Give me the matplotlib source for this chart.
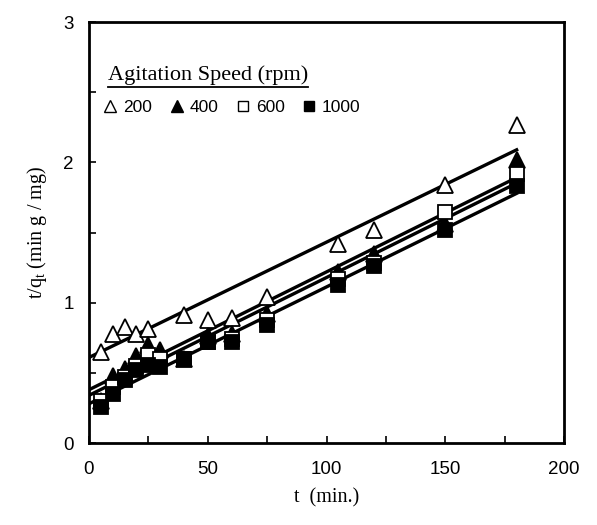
import matplotlib.pyplot as plt
import numpy as np
from matplotlib.lines import Line2D
from matplotlib.ticker import MultipleLocator

plt.rcParams["mathtext.fontset"] = "custom"
plt.rcParams["mathtext.rm"] = "Liberation Serif"

# contact time (min)
t_200 = [5, 10, 15, 20, 25, 40, 50, 60, 75, 105, 120, 150, 180]
t_all = [5, 10, 15, 20, 25, 30, 40, 50, 60, 75, 105, 120, 150, 180]

# t/qt (min g / mg) for each agitation speed
tq_200 = [0.65, 0.78, 0.83, 0.78, 0.81, 0.91, 0.88, 0.89, 1.04, 1.42, 1.52, 1.84, 2.27]
tq_400 = [0.30, 0.48, 0.53, 0.62, 0.70, 0.66, 0.60, 0.76, 0.78, 0.92, 1.22, 1.35, 1.56, 2.02]
tq_600 = [0.30, 0.40, 0.47, 0.55, 0.63, 0.60, 0.60, 0.72, 0.74, 0.88, 1.17, 1.28, 1.65, 1.92]
tq_1000 = [0.26, 0.35, 0.45, 0.52, 0.56, 0.54, 0.60, 0.72, 0.72, 0.84, 1.13, 1.26, 1.52, 1.83]

# pseudo-second-order fits: intercept, slope
fit_200 = (0.61, 0.00822)
fit_400 = (0.38, 0.00840)
fit_600 = (0.34, 0.00840)
fit_1000 = (0.28, 0.00833)

speeds = ["200", "400", "600", "1000"]

fig = plt.figure(figsize=(5.97, 5.25), dpi=100)
ax = fig.add_axes([0.149, 0.156, 0.796, 0.802])

series = [
    (t_200, tq_200, fit_200, "^", "white", 12),
    (t_all, tq_400, fit_400, "^", "black", 12),
    (t_all, tq_600, fit_600, "s", "white", 10),
    (t_all, tq_1000, fit_1000, "s", "black", 10),
]

tline = np.array([0, 180])
for tt, yy, (b, m), mk, fc, ms in series:
    ax.plot(tline, b + m * tline, color="black", lw=2.4, zorder=2)
for tt, yy, (b, m), mk, fc, ms in series:
    ax.plot(tt, yy, linestyle="none", marker=mk, ms=ms, mfc=fc, mec="black",
            mew=1.3, zorder=3, clip_on=False)

ax.set_xlim(0, 200)
ax.set_ylim(0, 3)
ax.xaxis.set_major_locator(MultipleLocator(50))
ax.xaxis.set_minor_locator(MultipleLocator(25))
ax.yaxis.set_major_locator(MultipleLocator(1))
ax.yaxis.set_minor_locator(MultipleLocator(0.5))
ax.tick_params(which="both", direction="in", length=5, width=1.2,
               top=False, right=False)
ax.tick_params(axis="x", which="major", pad=13)
ax.tick_params(axis="y", which="major", pad=11)
for lab in ax.get_xticklabels() + ax.get_yticklabels():
    lab.set_fontname("Liberation Sans")
    lab.set_fontsize(13.5)
for s in ax.spines.values():
    s.set_linewidth(2)

ax.set_xlabel("t  (min.)", fontname="Liberation Serif", fontsize=14.5, labelpad=7)
ax.set_ylabel(r"t/q$_{\mathrm{t}}$ (min g / mg)", fontname="Liberation Serif",
              fontsize=14.5, labelpad=10)

# legend title, underlined
title = ax.text(0.04, 0.862, "Agitation Speed (rpm)", transform=ax.transAxes,
                fontname="Liberation Serif", fontsize=16, va="baseline")
fig.canvas.draw()
bb = title.get_window_extent().transformed(ax.transAxes.inverted())
ax.plot([bb.x0, bb.x1], [bb.y0 - 0.004, bb.y0 - 0.004], transform=ax.transAxes,
        color="black", lw=1.3, clip_on=False)

handles = [
    Line2D([], [], linestyle="none", marker="^", ms=8, mfc="white", mec="black", mew=1),
    Line2D([], [], linestyle="none", marker="^", ms=8, mfc="black", mec="black", mew=1),
    Line2D([], [], linestyle="none", marker="s", ms=7, mfc="white", mec="black", mew=1),
    Line2D([], [], linestyle="none", marker="s", ms=7, mfc="black", mec="black", mew=1),
]
ax.legend(handles, speeds, ncol=4, frameon=False, loc="upper left",
          bbox_to_anchor=(0.005, 0.845), handlelength=0.8, handletextpad=0.35,
          columnspacing=1.0, borderpad=0.2,
          prop={"family": "Liberation Sans", "size": 12.5})

fig.savefig("out.png", dpi=100)
